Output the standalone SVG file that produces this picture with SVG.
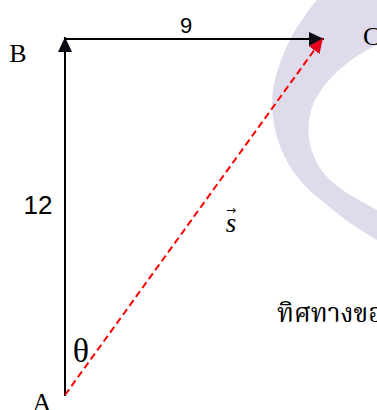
<svg xmlns="http://www.w3.org/2000/svg" width="377" height="410" viewBox="0 0 377 410">
  <style>
    .serif { font-family: "Liberation Serif", "Times New Roman", serif; fill: #000; }
    .sans { font-family: "Liberation Sans", Arial, sans-serif; fill: #000; }
    .axis { stroke: #000; stroke-width: 2; fill: none; }
    .result { stroke: #ff0000; stroke-width: 2; stroke-dasharray: 7 4; fill: none; }
  </style>
  <defs>
    <marker id="arrowBlack" viewBox="0 0 15 14" refX="15" refY="7" markerWidth="15" markerHeight="14" markerUnits="userSpaceOnUse" orient="auto">
      <path d="M0,0 L15,7 L0,14 Z" fill="#0d0a14"/>
    </marker>
    <marker id="arrowRed" viewBox="0 0 15 13" refX="15" refY="6.5" markerWidth="15" markerHeight="13" markerUnits="userSpaceOnUse" orient="auto">
      <path d="M0,0 L15,6.5 L0,13 Z" fill="#e8001c"/>
    </marker>
  </defs>
  <rect width="377" height="410" fill="#ffffff"/>
  <g id="watermark">
    <path d="M317,0 C300,20 280,50 273,90 C268,130 285,170 315,195 C335,212 355,228 377,240 L377,210 C360,200 335,190 320,168 C305,145 305,115 318,95 C332,72 355,55 377,45 L377,0 Z" fill="#dedbeb"/>
  </g>
  <g id="connectors">
    <line id="AB" class="axis" x1="65" y1="396" x2="65" y2="37" marker-end="url(#arrowBlack)"/>
    <line id="BC" class="axis" x1="64" y1="39" x2="324" y2="39" marker-end="url(#arrowBlack)"/>
    <line id="AC" class="result" x1="65" y1="395" x2="323" y2="38" marker-end="url(#arrowRed)"/>
  </g>
  <g id="node-A"><text class="serif" x="42" y="411" font-size="26" text-anchor="middle">A</text></g>
  <g id="node-B"><text class="serif" x="18" y="62" font-size="26" text-anchor="middle">B</text></g>
  <g id="node-C"><text class="serif" x="363" y="45" font-size="26">C</text></g>
  <g id="label-9"><text class="sans" x="186" y="33" font-size="22" text-anchor="middle">9</text></g>
  <g id="label-12"><text class="sans" x="38" y="214" font-size="26" text-anchor="middle">12</text></g>
  <g id="label-s">
    <text class="serif" x="231" y="232" font-size="27" font-style="italic" text-anchor="middle">s</text>
    <text x="231" y="214" font-size="12" text-anchor="middle" font-family="'DejaVu Sans', sans-serif">→</text>
  </g>
  <g id="label-theta"><text class="serif" x="81" y="362" font-size="34" text-anchor="middle">θ</text></g>
  <g id="label-thai"><text x="277" y="322" font-size="26" font-family="'Liberation Serif', 'Noto Serif Thai', 'Noto Sans Thai', 'DejaVu Sans', serif">ทิศทางของ</text></g>
</svg>
